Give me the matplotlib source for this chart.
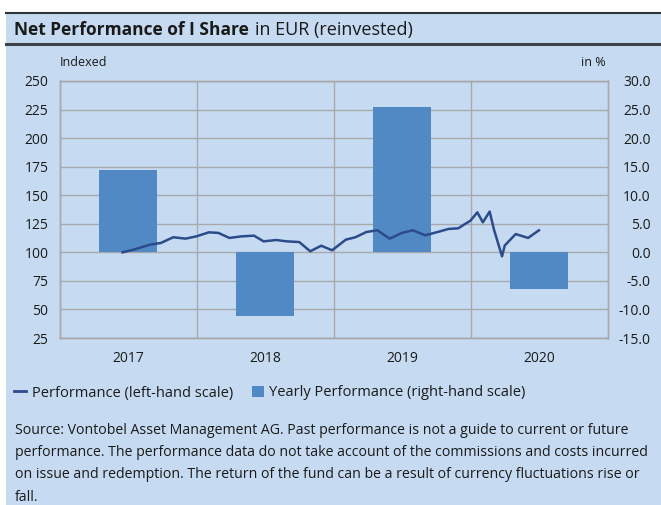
import matplotlib
matplotlib.use('Agg')
import matplotlib.pyplot as plt
from matplotlib.lines import Line2D
from matplotlib.patches import Rectangle, Patch

plt.rcParams['font.family'] = ['Open Sans', 'DejaVu Sans']

# yearly performance in % (right-hand scale)
years = ['2017', '2018', '2019', '2020']
yearly_perf = [14.4, -11.2, 25.4, -6.4]

# indexed performance (left-hand scale), time in decimal years
perf_time = [2017.46, 2017.54, 2017.66, 2017.74, 2017.83, 2017.92, 2018.00, 2018.09,
             2018.16, 2018.24, 2018.33, 2018.42, 2018.49, 2018.58, 2018.66, 2018.75,
             2018.83, 2018.91, 2018.99, 2019.09, 2019.16, 2019.24, 2019.32, 2019.41,
             2019.50, 2019.58, 2019.67, 2019.76, 2019.84, 2019.91, 2020.00, 2020.05,
             2020.09, 2020.14, 2020.17, 2020.23, 2020.25, 2020.33, 2020.42, 2020.50]
perf_index = [100.0, 102.3, 106.7, 108.2, 113.2, 112.0, 114.0, 117.5,
              117.0, 112.6, 114.0, 114.6, 109.6, 110.8, 109.6, 109.0,
              100.9, 105.8, 101.8, 111.1, 113.2, 117.8, 119.3, 112.0,
              117.0, 119.3, 114.9, 117.8, 120.5, 121.0, 127.8, 135.0,
              126.3, 135.7, 120.5, 96.5, 106.0, 116.0, 112.6, 119.3]

left_ticks = [25, 50, 75, 100, 125, 150, 175, 200, 225, 250]
right_ticks = [-15, -10, -5, 0, 5, 10, 15, 20, 25, 30]

BG = '#c6dbf1'
BAR = '#5189c4'
LINE = '#2b4b8b'
GRID = '#a6a8ab'
TXT = '#1a1a1a'

W, H = 661, 505
fig = plt.figure(figsize=(W / 100, H / 100), dpi=100, facecolor='white')

# blue panel and title rules
fig.add_artist(Rectangle((6 / W, 0), 1 - 6 / W, 1 - 13 / H, transform=fig.transFigure,
                         facecolor=BG, edgecolor='none', zorder=0))
fig.add_artist(Line2D([6 / W, 1], [1 - 13 / H] * 2, transform=fig.transFigure, color='#2e3338', lw=1.5))
fig.add_artist(Line2D([6 / W, 1], [1 - 44 / H] * 2, transform=fig.transFigure, color='#3c4247', lw=2.2))

t1 = fig.text(14 / W, 1 - 30 / H, 'Net Performance of I Share', fontsize=12.5, fontweight='bold',
              va='center', ha='left', color=TXT)
fig.canvas.draw()
bb = t1.get_window_extent()
fig.text((bb.x1 + 6) / W, 1 - 30 / H, 'in EUR (reinvested)', fontsize=13, va='center', ha='left', color=TXT)

left, right, top, bottom = 59.5, 607.5, 81, 338
ax = fig.add_axes([left / W, 1 - bottom / H, (right - left) / W, (bottom - top) / H])
ax2 = ax.twinx()

# bars on the right-hand scale (0 % sits at index 100)
ax2.bar([i + 0.5 for i in range(len(years))], yearly_perf, width=0.42, color=BAR, zorder=2)
ax2.set_ylim(-15, 30)
ax2.set_yticks(right_ticks)
ax2.set_yticklabels([f'{v:.1f}' for v in right_ticks])
ax2.set_xlim(0, 4)

# line on the left-hand scale, drawn above the bars
ax.set_zorder(ax2.get_zorder() + 1)
ax.patch.set_visible(False)
ax2.set_facecolor(BG)
x_line = [t - 2017 for t in perf_time]
ax.plot(x_line, perf_index, color=LINE, lw=1.8, zorder=3)
ax.set_ylim(25, 250)
ax.set_yticks(left_ticks)
ax.set_yticklabels([str(v) for v in left_ticks])
ax.set_xlim(0, 4)
ax.set_xticks([i + 0.5 for i in range(len(years))])
ax.set_xticklabels(years)

# grid drawn on the back axes, behind the bars
for v in right_ticks:
    ax2.axhline(v, color=GRID, lw=1, zorder=1)
for i in range(1, len(years)):
    ax2.axvline(i, color=GRID, lw=1, zorder=1)

for a in (ax, ax2):
    for s in a.spines.values():
        s.set_color(GRID)
        s.set_linewidth(1)
    a.tick_params(length=0, labelsize=10, colors=TXT)

ax.tick_params(axis='y', pad=8)
ax.tick_params(axis='x', pad=9)
ax2.tick_params(axis='y', pad=31)
for lab in ax2.get_yticklabels():
    lab.set_ha('right')

fig.text(60 / W, 1 - 62 / H, 'Indexed', fontsize=9, va='center', ha='left', color=TXT)
fig.text(606 / W, 1 - 62 / H, 'in %', fontsize=9, va='center', ha='right', color=TXT)

handles = [Line2D([], [], color=LINE, lw=2),
           Patch(facecolor=BAR, edgecolor='none')]
fig.legend(handles, ['Performance (left-hand scale)', 'Yearly Performance (right-hand scale)'],
           loc='center left', bbox_to_anchor=(1 / W, 1 - 393 / H), ncol=2, frameon=False,
           fontsize=10.5, handlelength=0.8, handleheight=0.8, handletextpad=0.4,
           columnspacing=1.3, labelcolor=TXT)

source_lines = [
    'Source: Vontobel Asset Management AG. Past performance is not a guide to current or future',
    'performance. The performance data do not take account of the commissions and costs incurred',
    'on issue and redemption. The return of the fund can be a result of currency fluctuations rise or',
    'fall.',
]
for k, line in enumerate(source_lines):
    fig.text(15 / W, 1 - (430 + 22.5 * k) / H, line, fontsize=10.2, va='center', ha='left', color=TXT)

fig.savefig('out.png', dpi=100, facecolor='white')
